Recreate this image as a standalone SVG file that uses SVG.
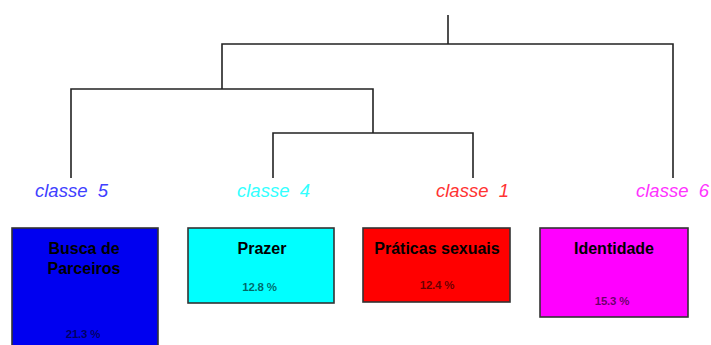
<svg xmlns="http://www.w3.org/2000/svg" width="711" height="345" viewBox="0 0 711 345">
  <style>
    .tree { fill: none; stroke: #222; stroke-width: 1.6; }
    .cls { font-family: "Liberation Sans", Arial, sans-serif; font-style: italic; font-size: 18.5px; text-anchor: middle; white-space: pre; }
    .box { stroke: #333; stroke-width: 1.6; }
    .title { font-family: "Liberation Sans", Arial, sans-serif; font-weight: bold; font-size: 16px; text-anchor: middle; fill: #000; white-space: pre; }
    .pct { font-family: "Liberation Sans", Arial, sans-serif; font-weight: bold; font-size: 11.5px; text-anchor: middle; fill: #000; fill-opacity: 0.6; letter-spacing: -0.2px; }
  </style>
  <rect width="711" height="345" fill="#fff"/>

  <!-- dendrogram branches -->
  <g id="connectors" class="tree">
    <path d="M448,15 V44"/>
    <path d="M222,89 V44 H673 V178"/>
    <path d="M71,178 V89 H373 V133"/>
    <path d="M273,178 V133 H473 V178"/>
  </g>

  <g id="classe5">
    <text class="cls" x="71.5" y="197" fill="#4040ff" xml:space="preserve">classe  5</text>
    <rect class="box" x="12" y="228" width="146" height="125" fill="#0000f0"/>
    <text class="title" x="84" y="254">Busca de</text>
    <text class="title" x="84" y="274">Parceiros</text>
    <text class="pct" x="83" y="338">21.3 %</text>
  </g>

  <g id="classe4">
    <text class="cls" x="273.5" y="197" fill="#33ffff" xml:space="preserve">classe  4</text>
    <rect class="box" x="188" y="228" width="146" height="75" fill="#00ffff"/>
    <text class="title" x="262" y="254">Prazer</text>
    <text class="pct" x="259.5" y="291">12.8 %</text>
  </g>

  <g id="classe1">
    <text class="cls" x="472.5" y="197" fill="#ff3333" xml:space="preserve">classe  1</text>
    <rect class="box" x="363" y="228" width="147" height="74" fill="#ff0000"/>
    <text class="title" x="437" y="254">Práticas sexuais</text>
    <text class="pct" x="437" y="288.5">12.4 %</text>
  </g>

  <g id="classe6">
    <text class="cls" x="672.5" y="197" fill="#ff33ff" xml:space="preserve">classe  6</text>
    <rect class="box" x="540" y="228" width="148" height="89" fill="#ff00ff"/>
    <text class="title" x="614" y="254">Identidade</text>
    <text class="pct" x="612" y="305">15.3 %</text>
  </g>
</svg>
